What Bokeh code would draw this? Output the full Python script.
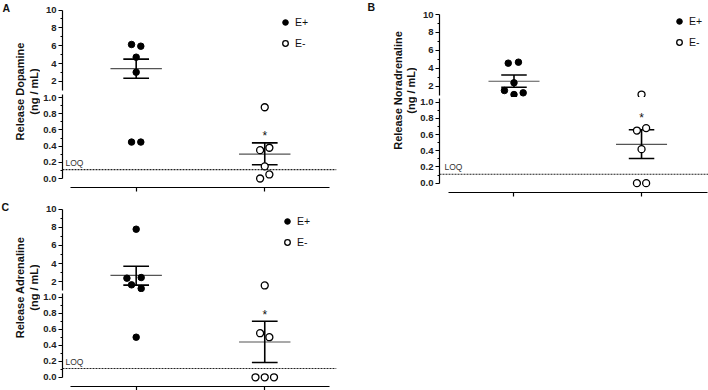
import numpy as np
from bokeh.plotting import figure
from bokeh.models import (Range1d, FixedTicker, Span, Label, Legend, LegendItem,
                          ColumnDataSource, PrintfTickFormatter, CustomLabelingPolicy)
from bokeh.layouts import row, column
from bokeh.embed import file_html
from bokeh.resources import INLINE
from bokeh.core.properties import value

FONT = "Liberation Sans"
BREAK = 1.0

groups = ["E+", "E-"]
group_x = [1, 2]

upper_ticks = [2, 4, 6, 8, 10]
upper_tick_labels = ["2", "4", "6", "8", "10"]
upper_minor = [3, 5, 7, 9]
lower_ticks = [0.0, 0.2, 0.4, 0.6, 0.8, 1.0]
lower_tick_labels = ["0.0", "0.2", "0.4", "0.6", "0.8", "1.0"]
lower_minor = [0.1, 0.3, 0.5, 0.7, 0.9]
loq_value = 0.11
loq_text = "LOQ"
star_text = "*"
unit_label = "(ng / mL)"

# Panel A - Dopamine
dop_pos = [6.14, 5.95, 4.72, 3.04, 0.45, 0.45]
dop_pos_jit = [-0.036, 0.036, 0.0, 0.0, -0.036, 0.036]
dop_neg = [0.88, 0.35, 0.38, 0.15, 0.05, 0.0]
dop_neg_jit = [0.0, -0.036, 0.036, 0.0, 0.036, -0.036]
dop_mean = [3.45, 0.30]
dop_sem_hi = [4.50, 0.44]
dop_sem_lo = [2.37, 0.17]
dop_star = 0.56

# Panel B - Noradrenaline
nor_pos = [4.57, 4.68, 2.38, 1.52, 1.07, 1.26]
nor_pos_jit = [-0.045, 0.035, 0.0, -0.075, 0.0, 0.072]
nor_neg = [1.07, 0.65, 0.68, 0.42, 0.0, 0.0]
nor_neg_jit = [0.0, -0.036, 0.036, 0.0, -0.036, 0.036]
nor_mean = [2.55, 0.48]
nor_sem_hi = [3.25, 0.66]
nor_sem_lo = [1.89, 0.305]
nor_star = 0.845

# Panel C - Adrenaline
adr_pos = [7.81, 2.37, 2.44, 1.63, 1.22, 0.50]
adr_pos_jit = [0.0, -0.072, 0.039, -0.036, 0.039, 0.0]
adr_neg = [1.56, 0.55, 0.50, 0.0, 0.0, 0.0]
adr_neg_jit = [0.0, -0.036, 0.036, -0.072, 0.0, 0.072]
adr_mean = [2.67, 0.44]
adr_sem_hi = [3.70, 0.70]
adr_sem_lo = [1.60, 0.185]
adr_star = 0.81

panels = {
    "A": dict(ylabel="Release Dopamine", pos=dop_pos, pos_j=dop_pos_jit, neg=dop_neg, neg_j=dop_neg_jit,
              mean=dop_mean, hi=dop_sem_hi, lo=dop_sem_lo, star=dop_star),
    "B": dict(ylabel="Release Noradrenaline", pos=nor_pos, pos_j=nor_pos_jit, neg=nor_neg, neg_j=nor_neg_jit,
              mean=nor_mean, hi=nor_sem_hi, lo=nor_sem_lo, star=nor_star),
    "C": dict(ylabel="Release Adrenaline", pos=adr_pos, pos_j=adr_pos_jit, neg=adr_neg, neg_j=adr_neg_jit,
              mean=adr_mean, hi=adr_sem_hi, lo=adr_sem_lo, star=adr_star),
}

# layout / style settings (pixels)
layout_cfg = {
    "A": dict(lab_w=40, fig_w=326, mbl=22, mbr=30, up_h=92, low_h=105, low_mbb=10,
              xr=(0.427, 2.558), xb=(0.49, 2.5), up_yr=(0.769, 11.063), low_yr=(-0.111, 1.062),
              legend_loc=(216, 42), lab_y=106, lab_x=(19, 33), letter_xy=(2, 1), loq_xy=(3, 25)),
    "B": dict(lab_w=51, fig_w=291, mbl=21, mbr=0, up_h=97, low_h=100, low_mbb=5,
              xr=(0.416, 2.525), xb=(0.49, 2.52), up_yr=(0.739, 11.5625), low_yr=(-0.115, 1.058),
              legend_loc=(233, 48), lab_y=107, lab_x=(31, 44.5), letter_xy=(1, 0), loq_xy=(5, 26)),
    "C": dict(lab_w=40, fig_w=326, mbl=22, mbr=30, up_h=95, low_h=98, low_mbb=3,
              xr=(0.427, 2.558), xb=(0.49, 2.5), up_yr=(0.778, 11.333), low_yr=(-0.115, 1.058),
              legend_loc=(218, 43), lab_y=103, lab_x=(19, 33), letter_xy=(1, 3), loq_xy=(3, 25)),
}


def style_yaxis(ax, ticks, minor, labels, bounds, fmt):
    ax.ticker = FixedTicker(ticks=ticks, minor_ticks=minor)
    ax.formatter = PrintfTickFormatter(format=fmt)
    ax.major_label_overrides = {t: l for t, l in zip(ticks, labels)}
    ax.bounds = bounds
    ax.axis_line_color = "black"
    ax.axis_line_width = 1.2
    ax.major_tick_line_color = "black"
    ax.major_tick_line_width = 1.2
    ax.major_tick_out = 4
    ax.major_tick_in = 0
    ax.minor_tick_line_color = "black"
    ax.minor_tick_out = 2
    ax.minor_tick_in = 0
    ax.major_label_text_font = FONT
    ax.major_label_text_font_size = "9.5px"
    ax.major_label_text_font_style = "bold"
    ax.major_label_text_color = "#222222"
    ax.major_label_standoff = 2
    ax.axis_label = None


def seg_of(v):
    return "up" if v > BREAK else "low"


def make_label_fig(w, h, letter, cfg, ylabel):
    f = figure(width=w, height=h, x_range=Range1d(0, w), y_range=Range1d(0, h), title=None,
               x_axis_location=None, y_axis_location=None, toolbar_location=None,
               output_backend="svg", min_border=0)
    f.grid.visible = False
    f.outline_line_color = None
    lx, ly = cfg["letter_xy"]
    f.add_layout(Label(x=lx, y=h - ly, text=letter, text_font=FONT,
                       text_font_size="10.5px", text_font_style="bold", text_color="#111111",
                       text_baseline="top", text_align="left"))
    for tx, t in zip(cfg["lab_x"], [ylabel, unit_label]):
        f.add_layout(Label(x=tx, y=cfg["lab_y"], text=t, angle=np.pi / 2, text_font=FONT,
                           text_font_size="11px", text_font_style="bold", text_color="#111111",
                           text_align="center", text_baseline="middle"))
    return f


def make_panel(key):
    d = panels[key]
    cfg = layout_cfg[key]
    up = figure(width=cfg["fig_w"], height=cfg["up_h"], x_range=Range1d(*cfg["xr"]),
                y_range=Range1d(*cfg["up_yr"]), x_axis_location=None, toolbar_location=None,
                title=None, output_backend="svg", min_border_left=cfg["mbl"],
                min_border_right=cfg["mbr"], min_border_top=0, min_border_bottom=0)
    low = figure(width=cfg["fig_w"], height=cfg["low_h"], x_range=Range1d(*cfg["xr"]),
                 y_range=Range1d(*cfg["low_yr"]), toolbar_location=None, title=None,
                 output_backend="svg", min_border_left=cfg["mbl"], min_border_right=cfg["mbr"],
                 min_border_top=0, min_border_bottom=cfg["low_mbb"])
    figs = {"up": up, "low": low}
    for p in (up, low):
        p.grid.visible = False
        p.outline_line_color = None
        p.background_fill_color = "white"
        p.border_fill_color = "white"
    style_yaxis(up.yaxis[0], upper_ticks, upper_minor, upper_tick_labels, (1.0, 10.0), "%d")
    style_yaxis(low.yaxis[0], lower_ticks, lower_minor, lower_tick_labels, (0.0, 1.04), "%.1f")

    xa = low.xaxis[0]
    xa.ticker = FixedTicker(ticks=group_x, minor_ticks=[])
    xa.bounds = cfg["xb"]
    xa.axis_line_color = "black"
    xa.axis_line_width = 1.2
    xa.major_tick_line_width = 1.2
    xa.major_tick_out = 4
    xa.major_tick_in = 0
    xa.major_label_text_font_size = "0px"
    xa.major_label_standoff = 0
    xa.major_label_policy = CustomLabelingPolicy(code="for (const i of indices) indices.unset(i)")

    # LOQ line + label
    low.add_layout(Span(location=loq_value, dimension="width", line_color="#222222",
                        line_width=1.1, line_dash="2 1"))
    low.add_layout(Label(x=cfg["loq_xy"][0], y=cfg["loq_xy"][1], x_units="screen", y_units="screen",
                         text=loq_text, text_font=FONT, text_font_size="8.5px",
                         text_color="#333333", text_baseline="middle", text_align="left"))

    # mean and SEM lines
    for gi, gx in enumerate(group_x):
        p = figs[seg_of(d["mean"][gi])]
        src = ColumnDataSource(dict(x0=[gx - 0.2], x1=[gx + 0.2], y=[d["mean"][gi]]))
        p.segment(x0="x0", y0="y", x1="x1", y1="y", source=src, line_color="#555555", line_width=1.2)
        ebar = ColumnDataSource(dict(
            x0=[gx, gx - 0.1, gx - 0.1], x1=[gx, gx + 0.1, gx + 0.1],
            y0=[d["lo"][gi], d["hi"][gi], d["lo"][gi]], y1=[d["hi"][gi], d["hi"][gi], d["lo"][gi]]))
        p.segment(x0="x0", y0="y0", x1="x1", y1="y1", source=ebar, line_color="black", line_width=1.6)

    # points: every segment gets all points, the ones of the other segment masked out (NaN)
    rends = {}
    for gi, (vals, jit) in enumerate([(d["pos"], d["pos_j"]), (d["neg"], d["neg_j"])]):
        for seg, p in figs.items():
            xs = [group_x[gi] + j for j in jit]
            ys = [v if seg_of(v) == seg else np.nan for v in vals]
            src = ColumnDataSource(dict(x=np.array(xs, dtype=float), y=np.array(ys, dtype=float)))
            if gi == 0:
                r = p.scatter("x", "y", source=src, marker="circle", size=6.5,
                              fill_color="black", line_color="black", line_width=1)
            else:
                r = p.scatter("x", "y", source=src, marker="circle", size=7,
                              fill_color="white", line_color="black", line_width=1.3)
            rends[(gi, seg)] = r

    # significance star
    low.text(x=[group_x[1]], y=[d["star"]], text=[star_text], text_align="center",
             text_baseline="middle", text_font=value(FONT), text_font_size="12px",
             text_color="#111111", y_offset=3)

    legend = Legend(items=[LegendItem(label=groups[0], renderers=[rends[(0, "up")]], index=0),
                           LegendItem(label=groups[1], renderers=[rends[(1, "up")]], index=0)],
                    location=cfg["legend_loc"], orientation="vertical", padding=0, margin=0,
                    spacing=7, glyph_width=14, glyph_height=14, label_height=14, label_standoff=3,
                    border_line_color=None, background_fill_alpha=0,
                    label_text_font=FONT, label_text_font_size="10.5px", label_text_color="#111111")
    up.add_layout(legend)

    lab = make_label_fig(cfg["lab_w"], cfg["up_h"] + cfg["low_h"], key, cfg, d["ylabel"])
    return row(lab, column(up, low))


pA = make_panel("A")
pB = make_panel("B")
pC = make_panel("C")

p = row(column(pA, pC), pB)

open("out.html", "w").write(file_html(p, INLINE))
